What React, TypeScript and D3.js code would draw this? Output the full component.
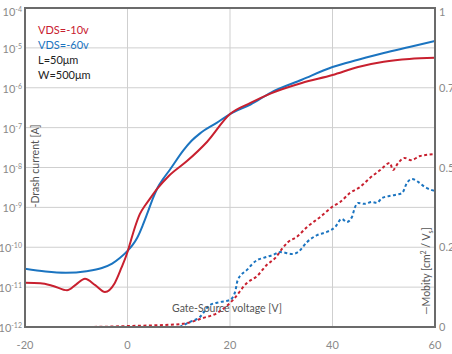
import React from "react";
import * as d3 from "d3";

// gate-source voltage and log10 drain current
const redVg = [-20, -17, -14.5, -11.8, -10, -8.3, -6.3, -4.4, -2.5, -1.2, 0, 0.6, 1.5, 2.4, 3.5, 4.5, 5.9, 8, 11.6, 15.5, 20, 24, 28, 34, 40, 45, 50, 55, 60];
const redLogId = [-10.89, -10.9, -10.97, -11.08, -10.93, -10.79, -10.95, -11.12, -10.9, -10.52, -10.12, -9.86, -9.48, -9.17, -8.94, -8.76, -8.52, -8.22, -7.84, -7.36, -6.66, -6.38, -6.14, -5.88, -5.68, -5.48, -5.35, -5.28, -5.25];

const blueVg = [-20, -16, -12, -8, -5, -3, -1.5, 0, 1, 1.9, 3, 3.9, 5, 5.9, 7, 8.3, 10.9, 12.5, 14.1, 17.4, 20, 24, 28, 34, 40, 45, 50, 55, 60];
const blueLogId = [-10.54, -10.61, -10.64, -10.6, -10.52, -10.41, -10.27, -10.09, -9.94, -9.76, -9.44, -9.14, -8.76, -8.5, -8.28, -8.05, -7.57, -7.33, -7.15, -6.88, -6.66, -6.42, -6.12, -5.8, -5.48, -5.3, -5.13, -4.98, -4.83];

// mobility (right axis)
const redMobVg = [-8.7, -4, 0, 5, 10.8, 14.7, 17.5, 20.6, 23.3, 25.3, 27.2, 28.8, 30.3, 31.3, 33, 35, 37.6, 39.9, 41.5, 43.4, 45.4, 47.3, 49.3, 51.2, 51.8, 52.8, 54.1, 55.3, 57.1, 60];
const redMob = [0, 0.001, 0.003, 0.005, 0.01, 0.028, 0.044, 0.085, 0.138, 0.16, 0.195, 0.216, 0.248, 0.266, 0.282, 0.313, 0.345, 0.376, 0.392, 0.42, 0.439, 0.467, 0.492, 0.514, 0.492, 0.514, 0.53, 0.523, 0.536, 0.542];

const blueMobVg = [10.2, 12.2, 14.1, 16.1, 18, 20, 21, 21.5, 23.3, 25.3, 26.4, 28.4, 29.8, 32.1, 33.3, 35, 37, 38.9, 40.5, 41.8, 42.8, 43.8, 44.4, 45, 46.3, 47.7, 48.7, 49.6, 50.9, 52.2, 53.6, 54.5, 55.5, 56.7, 58, 59.4, 60];
const blueMob = [0, 0.016, 0.031, 0.069, 0.078, 0.085, 0.11, 0.147, 0.179, 0.21, 0.216, 0.226, 0.235, 0.229, 0.235, 0.266, 0.288, 0.298, 0.313, 0.339, 0.329, 0.345, 0.376, 0.389, 0.386, 0.392, 0.389, 0.404, 0.41, 0.414, 0.42, 0.451, 0.464, 0.455, 0.439, 0.429, 0.426];

const xTicks = [-20, 0, 20, 40, 60];
const leftTicks = [-4, -5, -6, -7, -8, -9, -10, -11, -12];
const rightTicks = [1, 0.75, 0.5, 0.25, 0];

const legendItems = [
  { label: "VDS=-10v", color: "#c8202f" },
  { label: "VDS=-60v", color: "#1b74c0" },
  { label: "L=50μm", color: "#222" },
  { label: "W=500μm", color: "#222" },
];

const RED = "#c8202f";
const BLUE = "#1b74c0";

export default function App() {
  const width = 452;
  const height = 354;
  const margin = { top: 8, right: 17, bottom: 27, left: 25 };
  const font = "Lato, 'Open Sans', sans-serif";

  const x = d3.scaleLinear().domain([-20, 60]).range([margin.left, width - margin.right]);
  const yLog = d3.scaleLinear().domain([-12, -4]).range([height - margin.bottom, margin.top]);
  const yMob = d3.scaleLinear().domain([0, 1]).range([height - margin.bottom, margin.top]);

  const line = (xs: number[], ys: number[], yScale: d3.ScaleLinear<number, number>) =>
    d3
      .line<number>()
      .x((d, i) => x(xs[i]))
      .y((d) => yScale(d))
      .curve(d3.curveMonotoneX)(ys) || "";

  const gridY = d3.range(-12, -3.5, 1);

  return (
    <div style={{ position: "absolute", left: 0, top: 0 }}>
      <svg width={width} height={height} style={{ display: "block", background: "#fff" }} fontFamily={font}>
        <defs>
          <clipPath id="plot">
            <rect x={margin.left} y={margin.top} width={width - margin.left - margin.right} height={height - margin.top - margin.bottom} />
          </clipPath>
        </defs>

        {/* grid */}
        {gridY.map((g) => (
          <line key={"gy" + g} x1={margin.left} x2={width - margin.right} y1={yLog(g)} y2={yLog(g)} stroke="#cfcfcf" strokeWidth={1} />
        ))}
        {xTicks.map((t) => (
          <line key={"gx" + t} x1={x(t)} x2={x(t)} y1={margin.top} y2={height - margin.bottom} stroke="#cfcfcf" strokeWidth={1} />
        ))}

        <g clipPath="url(#plot)" fill="none">
          <path d={line(redMobVg, redMob, yMob)} stroke={RED} strokeWidth={2} strokeDasharray="3,2.5" />
          <path d={line(blueMobVg, blueMob, yMob)} stroke={BLUE} strokeWidth={2} strokeDasharray="3,2.5" />
          <path d={line(blueVg, blueLogId, yLog)} stroke={BLUE} strokeWidth={2} />
          <path d={line(redVg, redLogId, yLog)} stroke={RED} strokeWidth={2} />
        </g>

        {/* frame */}
        <rect x={margin.left} y={margin.top} width={width - margin.left - margin.right} height={height - margin.top - margin.bottom} fill="none" stroke="#6b6b6b" strokeWidth={2} />

        {/* left ticks */}
        {leftTicks.map((p) => (
          <text key={"l" + p} x={22} y={Math.max(yLog(p), 11) + 5} textAnchor="end" fill="#8a8a8a" fontSize={11}>
            <tspan>10</tspan>
            <tspan dy={-4} fontSize={7}>{"-" + Math.abs(p)}</tspan>
          </text>
        ))}

        {/* right ticks (cut at the page edge, as in the original) */}
        {rightTicks.map((v) => (
          <text key={"r" + v} x={439} y={Math.max(yMob(v), 12) + 4} fill="#8a8a8a" fontSize={11}>
            {v}
          </text>
        ))}

        {/* bottom ticks */}
        {xTicks.map((t) => (
          <text key={"b" + t} x={x(t)} y={349} textAnchor="middle" fill="#8a8a8a" fontSize={11}>
            {t}
          </text>
        ))}

        {/* axis titles */}
        <text x={227} y={312} textAnchor="middle" fill="#555" fontSize={10.5}>
          Gate-Source voltage [V]
        </text>
        <text transform="translate(39,166) rotate(-90)" textAnchor="middle" fill="#555" fontSize={10.5}>
          -Drash current [A]
        </text>
        <text transform="translate(430,271) rotate(-90)" textAnchor="middle" fill="#555" fontSize={10.5}>
          <tspan>—Mobity [cm</tspan>
          <tspan dy={-4} fontSize={7}>2</tspan>
          <tspan dy={4}> / V</tspan>
          <tspan dy={3} fontSize={7}>s</tspan>
          <tspan dy={-3}>]</tspan>
        </text>

        {/* legend */}
        {legendItems.map((it, i) => (
          <text key={it.label} x={38} y={34 + i * 15} fill={it.color} fontSize={11}>
            {it.label}
          </text>
        ))}
      </svg>
    </div>
  );
}
